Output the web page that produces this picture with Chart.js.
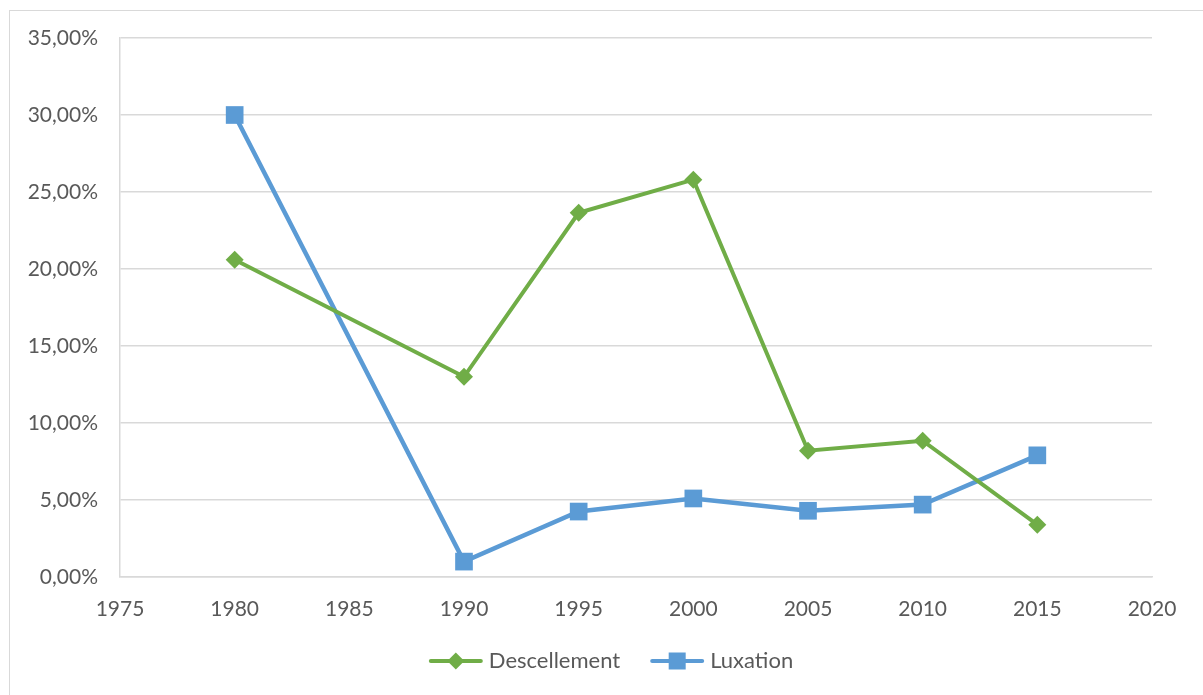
<!DOCTYPE html>
<html>
<head>
<meta charset="utf-8">
<script src="https://cdn.jsdelivr.net/npm/chart.js@4/dist/chart.umd.min.js"></script>
<style>
  html,body{margin:0;padding:0;background:#fff;}
  #wrap{position:absolute;left:0;top:0;width:1203px;height:695px;}
</style>
</head>
<body>
<div id="wrap"><canvas id="c" width="1203" height="695"></canvas></div>
<script>
const years = [1980, 1990, 1995, 2000, 2005, 2010, 2015];
const descellement = [20.6, 13.0, 23.65, 25.8, 8.2, 8.85, 3.4];
const luxation = [30.0, 1.0, 4.25, 5.1, 4.3, 4.7, 7.9];
const seriesNames = ['Descellement', 'Luxation'];
const xTicks = [1975, 1980, 1985, 1990, 1995, 2000, 2005, 2010, 2015, 2020];
const yTicks = [0, 5, 10, 15, 20, 25, 30, 35];

const GREEN = '#70AD47';
const BLUE = '#5B9BD5';
const TEXT = '#595959';
const GRID = '#D9D9D9';
const FONT = 'Lato, "Open Sans", sans-serif';

const framePlugin = {
  id: 'frame',
  beforeDraw(chart) {
    const ctx = chart.ctx;
    ctx.save();
    ctx.strokeStyle = GRID; ctx.lineWidth = 1;
    ctx.strokeRect(9.5, 10.5, 1202, 700);
    ctx.restore();
  }
};

const legendPlugin = {
  id: 'customLegend',
  afterDraw(chart) {
    const ctx = chart.ctx;
    ctx.save();
    ctx.font = '22px ' + FONT;
    ctx.textBaseline = 'middle';
    const lineW = 54, gapText = 6, gapItem = 30, cy = 661, center = 611;
    const items = chart.data.datasets.map(d => ({
      label: d.label, color: d.borderColor, style: d.pointStyle, w: ctx.measureText(d.label).width
    }));
    let total = 0;
    items.forEach((it, i) => { total += lineW + gapText + it.w + (i ? gapItem : 0); });
    let x = center - total / 2;
    items.forEach((it) => {
      ctx.strokeStyle = it.color; ctx.lineWidth = 4; ctx.lineCap = 'round';
      ctx.beginPath(); ctx.moveTo(x + 2, cy); ctx.lineTo(x + lineW - 2, cy); ctx.stroke();
      ctx.fillStyle = it.color;
      const mx = x + lineW / 2;
      if (it.style === 'rectRot') {
        ctx.beginPath(); ctx.moveTo(mx, cy - 8.5); ctx.lineTo(mx + 8.5, cy); ctx.lineTo(mx, cy + 8.5); ctx.lineTo(mx - 8.5, cy); ctx.closePath(); ctx.fill();
      } else {
        ctx.fillRect(mx - 8.5, cy - 8.5, 17, 17);
      }
      ctx.fillStyle = TEXT;
      ctx.fillText(it.label, x + lineW + gapText, cy);
      x += lineW + gapText + it.w + gapItem;
    });
    ctx.restore();
  }
};

const data = {
  datasets: [
    {
      label: seriesNames[0],
      data: years.map((y, i) => ({x: y, y: descellement[i]})),
      borderColor: GREEN, backgroundColor: GREEN,
      borderWidth: 4, pointStyle: 'rectRot', pointRadius: 9, pointHoverRadius: 9,
      pointBorderWidth: 0
    },
    {
      label: seriesNames[1],
      data: years.map((y, i) => ({x: y, y: luxation[i]})),
      borderColor: BLUE, backgroundColor: BLUE,
      borderWidth: 4.5, pointStyle: 'rect', pointRadius: 12.5, pointHoverRadius: 12.5,
      pointBorderWidth: 0
    }
  ]
};

new Chart(document.getElementById('c'), {
  type: 'line',
  data,
  plugins: [framePlugin, legendPlugin],
  options: {
    responsive: false,
    animation: false,
    layout: {padding: {left: 0, right: 51, top: 38, bottom: 0}},
    plugins: {
      tooltip: {enabled: false},
      legend: {display: false}
    },
    scales: {
      x: {
        type: 'linear', min: 1975, max: 2020,
        afterBuildTicks(axis) { axis.ticks = xTicks.map(v => ({value: v})); },
        grid: {display: false, drawTicks: false},
        border: {display: true, color: GRID, width: 1.5},
        ticks: {color: TEXT, font: {family: FONT, size: 21}, padding: 20, maxRotation: 0,
                callback: v => String(v)},
        afterFit(axis) { axis.height = 118; }
      },
      y: {
        min: 0, max: 35,
        afterBuildTicks(axis) { axis.ticks = yTicks.map(v => ({value: v})); },
        grid: {color: GRID, lineWidth: 1.5, drawTicks: false},
        border: {display: true, color: GRID, width: 1.5},
        ticks: {color: TEXT, font: {family: FONT, size: 21}, padding: 22,
                callback: v => v.toFixed(2).replace('.', ',') + '%'},
        afterFit(axis) { axis.width = 120; }
      }
    }
  }
});
</script>
</body>
</html>
